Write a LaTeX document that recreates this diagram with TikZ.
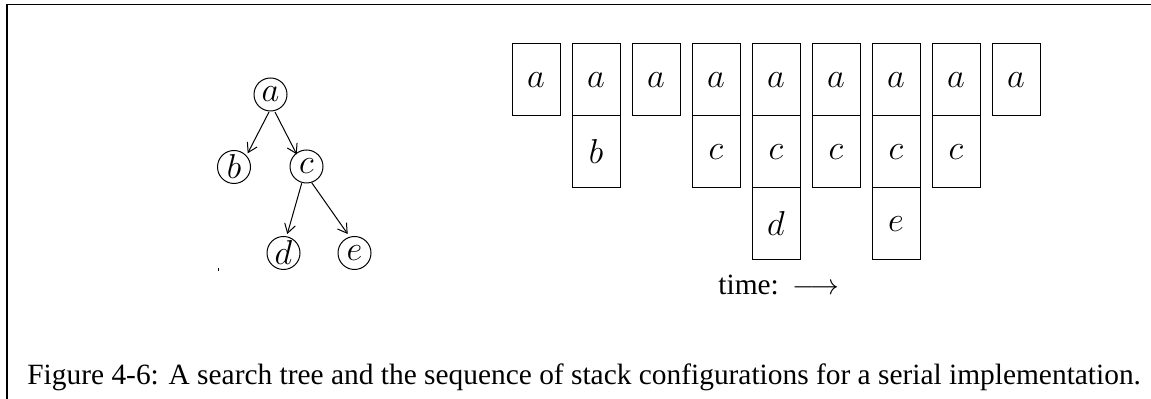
\documentclass[tikz,border=0pt]{standalone}
\usepackage{fontspec}
\setmainfont{Liberation Serif}
\usetikzlibrary{arrows.meta,calc}
\begin{document}
\begin{tikzpicture}[x=0.5pt,y=-0.5pt,
  treenode/.style={circle,draw,line width=0.5pt,minimum size=16.5pt,inner sep=0pt,font=\fontsize{16}{19}\selectfont},
  stackbox/.style={rectangle,draw,line width=0.5pt,minimum width=24pt,minimum height=36pt,inner sep=0pt,font=\fontsize{16}{19}\selectfont},
  treearrow/.style={line width=0.5pt,-{Straight Barb[length=4.5pt,width=5.5pt]}},
  textlabel/.style={anchor=base west,inner sep=0pt,font=\fontsize{14.7}{17}\selectfont}]
\useasboundingbox (0,0) rectangle (1151,399);
% frame
\coordinate (fl) at (6.5,4.5);
\coordinate (fr) at (1151,4.5);
\coordinate (fb) at (6.5,399);
\draw[line width=0.5pt] (fl) -- (fr);
\draw[line width=1pt] (fl) -- (fb);
% tree
\node[treenode] (a) at (270.5,94.5) {$a$};
\node[treenode] (b) at (234,167) {$b$};
\node[treenode] (c) at (306.5,166.5) {$c$};
\node[treenode] (d) at (283.5,253) {$d$};
\node[treenode] (e) at (354.5,253) {$e$};
\draw[treearrow] ($(a)+(-1.5,17.5)$) -- ($(b)+(13.7,-13.7)$);
\draw[treearrow] ($(a)+(4.5,17.5)$) -- ($(c)+(-9.8,-12.2)$);
\draw[treearrow] ($(c)+(-4.8,16.8)$) -- ($(d)+(3.8,-19)$);
\draw[treearrow] ($(c)+(5.2,16.2)$) -- ($(e)+(-6.8,-19)$);
\fill (217.6,268.5) rectangle (218.6,271);
% stacks
\node[stackbox] (s0a) at (536,80) {$a$};
\node[stackbox] (s1a) at (596,80) {$a$};
\node[stackbox] (s1b) at (596,152) {$b$};
\node[stackbox] (s2a) at (656,80) {$a$};
\node[stackbox] (s3a) at (716,80) {$a$};
\node[stackbox] (s3c) at (716,152) {$c$};
\node[stackbox] (s4a) at (776,80) {$a$};
\node[stackbox] (s4c) at (776,152) {$c$};
\node[stackbox] (s4d) at (776,224) {$d$};
\node[stackbox] (s5a) at (836,80) {$a$};
\node[stackbox] (s5c) at (836,152) {$c$};
\node[stackbox] (s6a) at (896,80) {$a$};
\node[stackbox] (s6c) at (896,152) {$c$};
\node[stackbox] (s6e) at (896,224) {$e$};
\node[stackbox] (s7a) at (956,80) {$a$};
\node[stackbox] (s7c) at (956,152) {$c$};
\node[stackbox] (s8a) at (1016,80) {$a$};
% time label
\node[textlabel] (time) at (718,295) {time:\hspace{7pt}$\longrightarrow$};
% caption
\node[textlabel] (cap) at (27,385) {Figure 4-6: A search tree and the sequence of stack configurations for a serial implementation.};
\end{tikzpicture}
\end{document}
